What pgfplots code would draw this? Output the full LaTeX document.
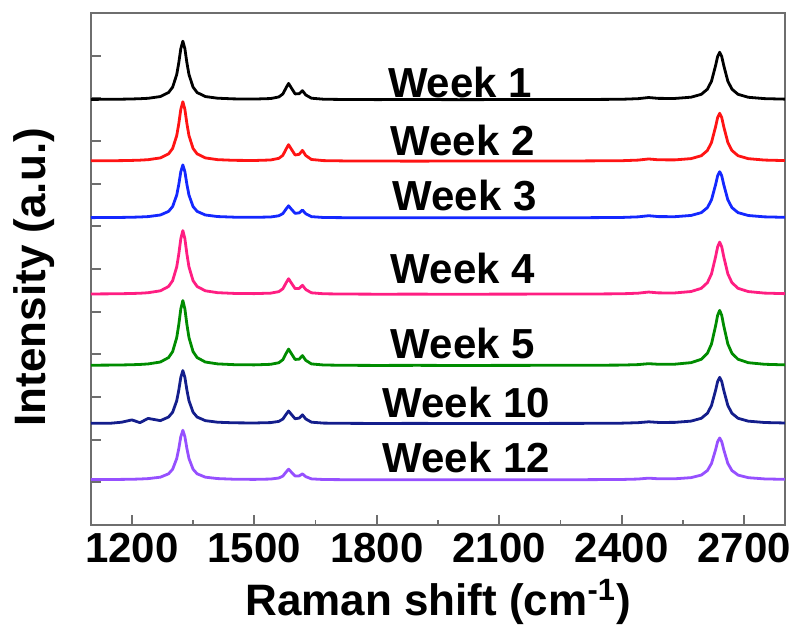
\documentclass[border=0pt]{standalone}
\usepackage{pgfplots}
\usepackage{pgfplotstable}
\usepackage{fontspec}
\pgfplotsset{compat=1.18}
\setmainfont{Liberation Sans}

\definecolor{wkred}{RGB}{255,20,20}
\definecolor{wkblue}{RGB}{20,40,255}
\definecolor{wkpink}{RGB}{255,30,130}
\definecolor{wkgreen}{RGB}{0,140,0}
\definecolor{wknavy}{RGB}{20,30,140}
\definecolor{wkpurple}{RGB}{150,80,255}
\definecolor{framegray}{RGB}{110,110,110}

% Raman spectra, stacked (offset already included)
\pgfplotstableread{
x w1 w2 w3 w4 w5 w10 w12
1100 9.975 8.535 7.204 5.415 3.745 2.384 1.064
1150 9.978 8.538 7.207 5.418 3.748 2.387 1.066
1175 9.980 8.540 7.209 5.421 3.751 2.409 1.069
1200 9.985 8.545 7.213 5.426 3.756 2.463 1.072
1220 9.991 8.551 7.219 5.432 3.763 2.399 1.078
1240 10.001 8.562 7.228 5.444 3.775 2.498 1.087
1270 10.042 8.604 7.266 5.489 3.820 2.446 1.121
1290 10.136 8.698 7.350 5.590 3.924 2.530 1.200
1300 10.262 8.826 7.464 5.727 4.064 2.644 1.307
1310 10.558 9.126 7.732 6.049 4.392 2.912 1.558
1315 10.830 9.403 7.979 6.346 4.695 3.159 1.788
1320 11.163 9.741 8.280 6.708 5.064 3.460 2.070
1325 11.340 9.920 8.440 6.900 5.260 3.620 2.220
1330 11.163 9.741 8.280 6.708 5.064 3.460 2.070
1335 10.830 9.403 7.979 6.346 4.695 3.159 1.788
1340 10.558 9.126 7.732 6.049 4.392 2.912 1.558
1350 10.262 8.826 7.464 5.727 4.064 2.644 1.307
1360 10.136 8.698 7.350 5.590 3.924 2.530 1.200
1380 10.042 8.604 7.266 5.489 3.820 2.446 1.121
1410 10.003 8.563 7.229 5.445 3.776 2.409 1.088
1450 9.987 8.547 7.215 5.428 3.758 2.395 1.073
1500 9.983 8.543 7.211 5.423 3.753 2.391 1.069
1540 9.995 8.555 7.219 5.434 3.766 2.400 1.077
1560 10.032 8.593 7.247 5.469 3.803 2.428 1.101
1570 10.103 8.664 7.299 5.537 3.874 2.483 1.147
1578 10.249 8.813 7.407 5.677 4.023 2.596 1.243
1584 10.349 8.914 7.481 5.772 4.123 2.672 1.308
1590 10.256 8.821 7.412 5.684 4.030 2.602 1.247
1600 10.104 8.672 7.304 5.541 3.880 2.490 1.149
1610 10.108 8.688 7.315 5.545 3.888 2.506 1.151
1618 10.180 8.780 7.382 5.618 3.970 2.582 1.199
1626 10.080 8.660 7.295 5.519 3.860 2.485 1.133
1640 10.003 8.567 7.227 5.442 3.775 2.410 1.081
1670 9.979 8.540 7.207 5.419 3.750 2.388 1.066
1720 9.973 8.533 7.203 5.413 3.743 2.383 1.062
1800 9.970 8.530 7.200 5.410 3.740 2.380 1.060
1900 9.972 8.528 7.202 5.411 3.742 2.382 1.061
2000 9.969 8.531 7.199 5.409 3.739 2.379 1.059
2100 9.971 8.529 7.201 5.411 3.741 2.381 1.061
2200 9.971 8.532 7.201 5.412 3.742 2.381 1.061
2300 9.972 8.533 7.202 5.413 3.743 2.382 1.062
2400 9.978 8.538 7.208 5.419 3.748 2.387 1.067
2440 9.992 8.552 7.222 5.433 3.759 2.398 1.077
2466 10.019 8.579 7.249 5.460 3.781 2.419 1.098
2490 9.999 8.559 7.228 5.440 3.767 2.404 1.083
2530 9.997 8.557 7.226 5.439 3.769 2.405 1.083
2570 10.027 8.587 7.255 5.472 3.805 2.435 1.110
2595 10.094 8.655 7.321 5.547 3.884 2.501 1.170
2610 10.215 8.778 7.439 5.680 4.025 2.619 1.277
2620 10.403 8.967 7.621 5.886 4.243 2.801 1.442
2630 10.768 9.335 7.977 6.287 4.668 3.157 1.765
2635 10.981 9.550 8.184 6.521 4.915 3.364 1.953
2640 11.080 9.650 8.280 6.630 5.030 3.460 2.040
2645 10.981 9.550 8.184 6.521 4.915 3.364 1.953
2650 10.768 9.335 7.977 6.287 4.668 3.157 1.765
2660 10.403 8.967 7.621 5.886 4.243 2.801 1.442
2670 10.215 8.778 7.439 5.680 4.025 2.619 1.277
2685 10.094 8.655 7.321 5.547 3.884 2.501 1.170
2710 10.025 8.586 7.254 5.471 3.804 2.434 1.109
2750 9.993 8.553 7.222 5.435 3.767 2.402 1.080
2800 9.981 8.541 7.211 5.422 3.753 2.391 1.070
}\spectra

\begin{document}
\begin{tikzpicture}
\path[use as bounding box] (-45.5pt,-51pt) rectangle (351.5pt,262.5pt);
\begin{axis}[
  at={(0,0)}, anchor=south west,
  scale only axis, width=347pt, height=256pt,
  xmin=1100, xmax=2800, ymin=0, ymax=12,
  xtick={1200,1500,1800,2100,2400,2700},
  minor xtick={1350,1650,1950,2250,2550},
  ytick={1,2,3,4,5,6,7,8,9,10,11},
  yticklabels={},
  tick align=inside, tick pos=left,
  major tick length=5pt, minor tick length=2.5pt,
  axis line style={framegray, line width=1pt},
  tick style={framegray, line width=0.9pt},
  /pgf/number format/1000 sep={},
  /pgf/number format/assume math mode=true,
  ticklabel style={font=\fontsize{21}{25}\selectfont\bfseries},
  xticklabel style={yshift=-3pt, inner sep=1pt},
  label style={font=\fontsize{22}{26}\selectfont\bfseries},
  xlabel={Raman shift (cm\textsuperscript{-1})},
  ylabel={Intensity (a.u.)},
  xlabel style={at={(axis description cs:0.5,0)}, anchor=center, yshift=-38.5pt, inner sep=1pt},
  ylabel style={at={(axis description cs:0,0.484)}, anchor=center, yshift=28.5pt},
  every axis plot/.append style={line width=1.4pt, line join=round},
]
\addplot[black] table[x=x, y=w1] {\spectra};
\addplot[wkred] table[x=x, y=w2] {\spectra};
\addplot[wkblue] table[x=x, y=w3] {\spectra};
\addplot[wkpink] table[x=x, y=w4] {\spectra};
\addplot[wkgreen] table[x=x, y=w5] {\spectra};
\addplot[wknavy] table[x=x, y=w10] {\spectra};
\addplot[wkpurple] table[x=x, y=w12] {\spectra};
\begin{scope}[every node/.style={anchor=base, inner sep=0pt, font=\fontsize{21}{25}\selectfont\bfseries}]
\node at (axis cs:2004,10.03) {Week 1};
\node at (axis cs:2010,8.67) {Week 2};
\node at (axis cs:2015,7.38) {Week 3};
\node at (axis cs:2011,5.67) {Week 4};
\node at (axis cs:2011,3.91) {Week 5};
\node at (axis cs:2019,2.53) {Week 10};
\node at (axis cs:2019,1.22) {Week 12};
\end{scope}
\end{axis}
\end{tikzpicture}
\end{document}
